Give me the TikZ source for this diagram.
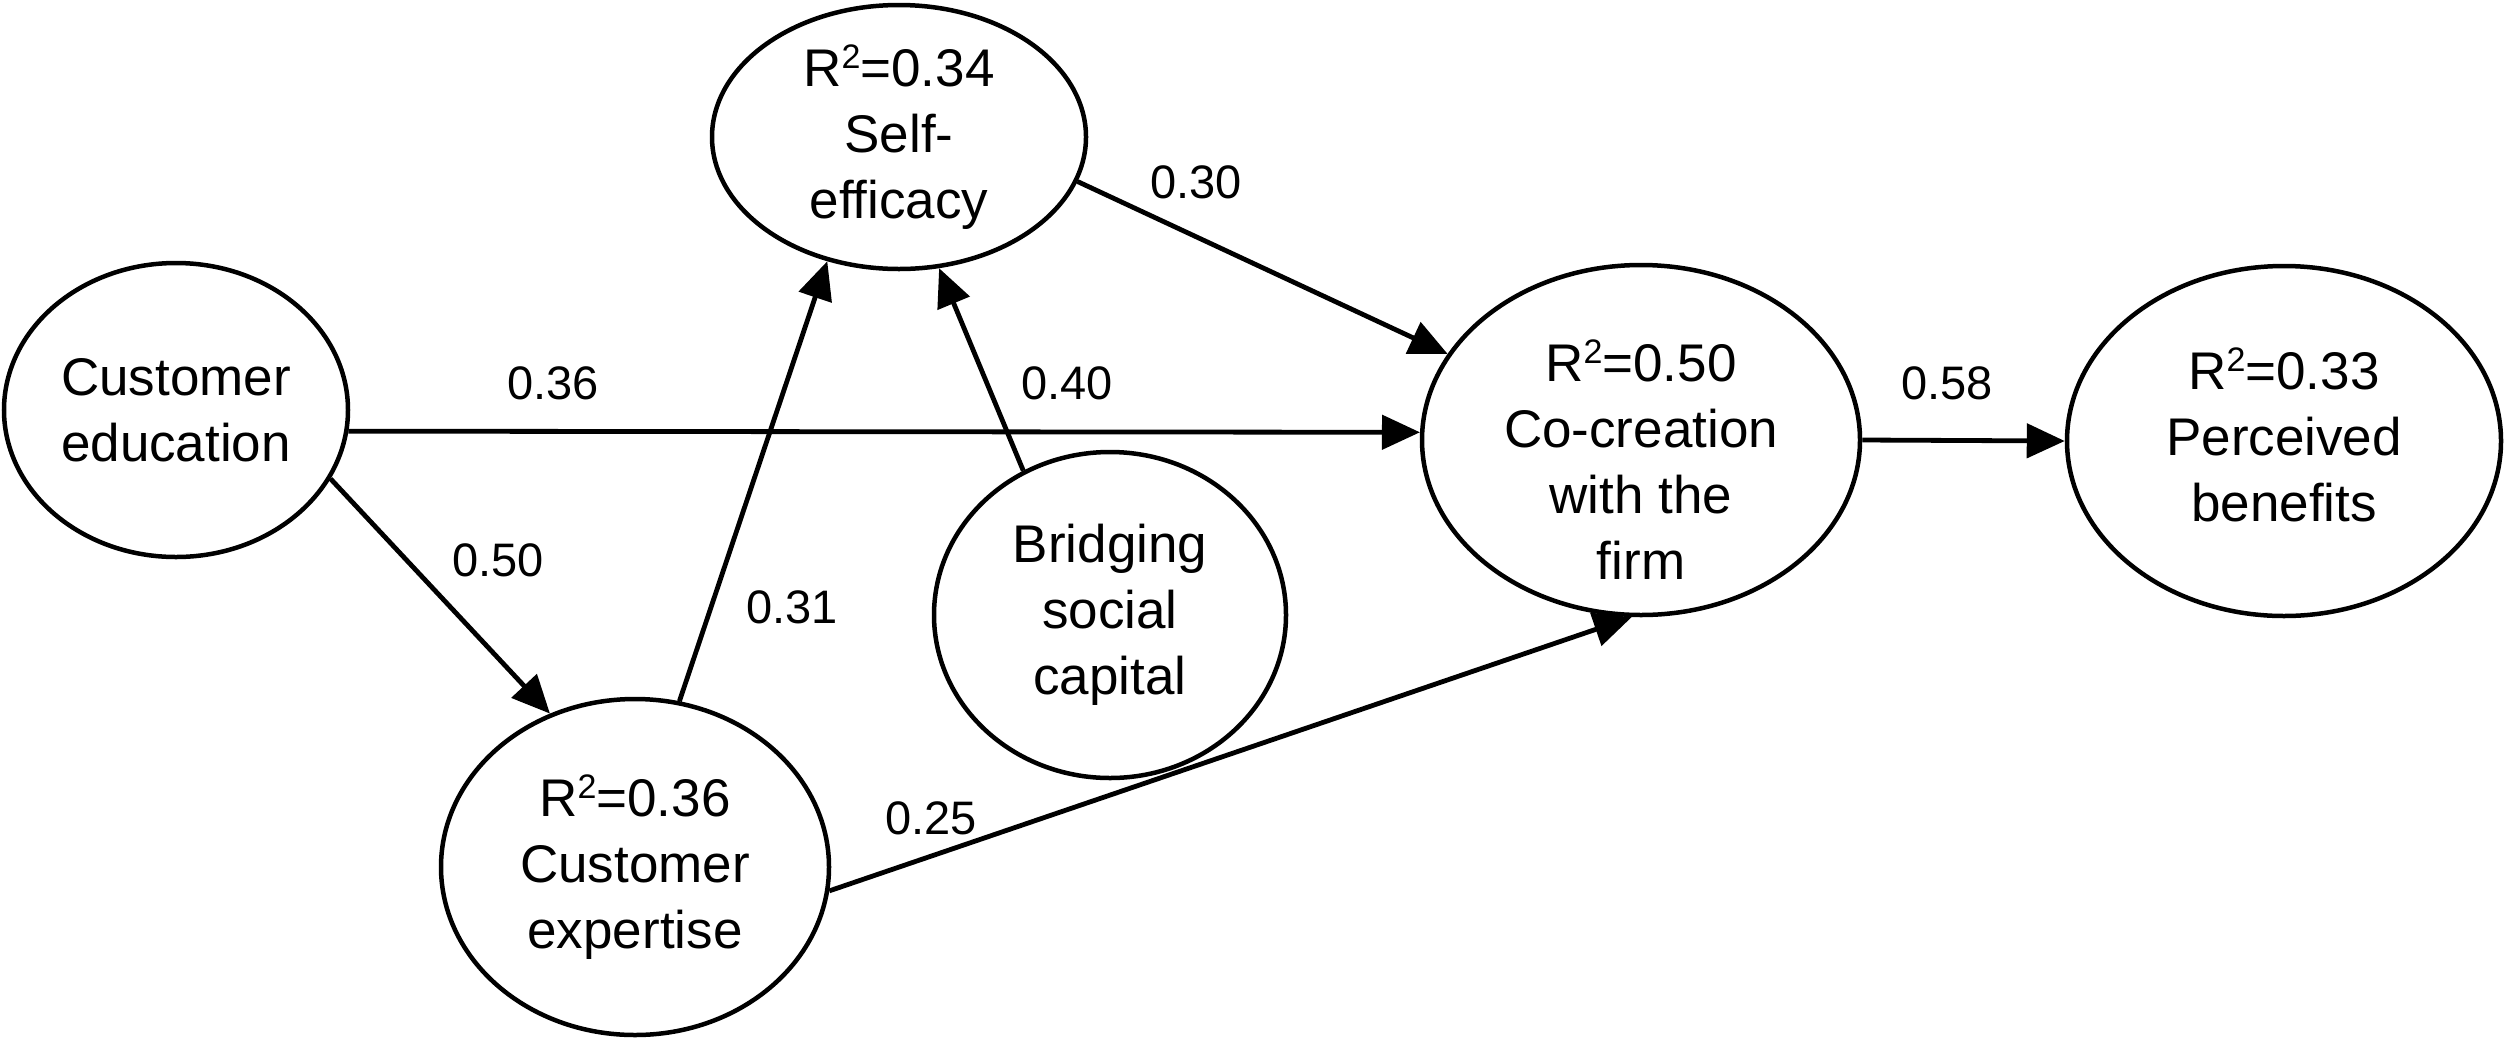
\documentclass[tikz,border=0pt]{standalone}
\usepackage{fontspec}
\setmainfont{Liberation Sans}
\usetikzlibrary{shapes.geometric,arrows.meta}
\newcommand{\rsq}{R\raisebox{18pt}{\fontsize{34}{34}\selectfont 2}}
\begin{document}
\begin{tikzpicture}[x=1pt,y=-1pt,
  nodetext/.style={font=\fontsize{53}{66}\selectfont, align=center},
  ell/.style={ellipse, draw, line width=4.5pt, inner sep=0pt, nodetext},
  arr/.style={line width=4.8pt, -{Triangle[length=38pt,width=34pt]}},
  lab/.style={font=\fontsize{47}{56}\selectfont, inner sep=0pt}]
\useasboundingbox (0,0) rectangle (2505,1037);
\node[ell, minimum width=374pt, minimum height=264pt] (se) at (899,137) {\rsq=0.34\\Self-\\efficacy};
\node[ell, minimum width=344pt, minimum height=294pt] (ce) at (176,410) {Customer\\education};
\node[ell, minimum width=388pt, minimum height=336pt] (ex) at (635,867) {\rsq=0.36\\Customer\\expertise};
\node[ell, minimum width=352pt, minimum height=326pt] (bs) at (1110,615) {Bridging\\social\\capital};
\node[ell, minimum width=438pt, minimum height=350pt,
  label={[name=cctext, nodetext, yshift=-20pt]center:{\rsq=0.50\\Co-creation\\with the\\firm}}] (cc) at (1641,440) {};
\node[ell, minimum width=434pt, minimum height=350pt,
  label={[name=pbtext, nodetext, yshift=6pt]center:{\rsq=0.33\\Perceived\\benefits}}] (pb) at (2284,441) {};
\draw[arr] (ce.-7.6) -- (cc.178.2);
\draw[arr] (cc.east) -- (pb.west);
\draw[arr] (se.-14.8) -- (cc.156.1);
\draw[arr] (ce.-24.6) -- (ex.119.2);
\draw[arr] (ex.75.3) -- (se.240.9);
\draw[arr] (bs.121.3) -- (se.-73.4);
\draw[arr] (ex.-7.3) -- (cc.-93.6);
\node[lab] (l1) at (553,383) {0.36};
\node[lab] (l2) at (1067,383) {0.40};
\node[lab] (l3) at (1196,182) {0.30};
\node[lab] (l4) at (1947,383) {0.58};
\node[lab] (l5) at (498,560) {0.50};
\node[lab] (l6) at (792,607) {0.31};
\node[lab] (l7) at (931,818) {0.25};
\end{tikzpicture}
\end{document}
